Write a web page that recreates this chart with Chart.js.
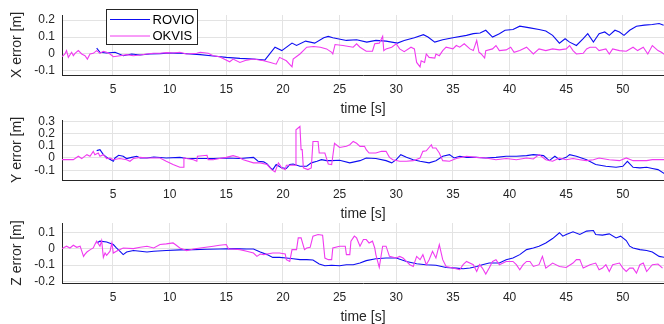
<!DOCTYPE html>
<html lang="en">
<head>
<meta charset="UTF-8">
<title>ROVIO / OKVIS position error</title>
<script src="https://cdn.jsdelivr.net/npm/chart.js"></script>
<style>
  body { margin: 0; background: #fff; }
  .wrap { position: relative; width: 664px; height: 324px; overflow: hidden; background: #fff; }
  .wrap canvas { position: absolute; left: 0; }
</style>
</head>
<body>
<div class="wrap">
  <canvas id="xChart" width="664" height="120" style="top:0px"></canvas>
  <canvas id="yChart" width="664" height="120" style="top:105px"></canvas>
  <canvas id="zChart" width="664" height="120" style="top:208px"></canvas>
</div>
<script>
// ---- data ----
const seriesNames = ['ROVIO', 'OKVIS'];
const timeTicks = [5, 10, 15, 20, 25, 30, 35, 40, 45, 50];
const timeRange = [0.5, 53.63];
const xErrTicks = [-0.1, 0, 0.1, 0.2];
const yErrTicks = [-0.1, 0, 0.1, 0.2, 0.3];
const zErrTicks = [-0.2, -0.1, 0, 0.1];

// X error
const xRovioT = [3.56,3.85,4.44,5.18,5.91,6.65,7.38,8.26,9.15,10.03,10.9,11.8,12.7,13.85,15.0,16.2,17.4,18.4,19.3,19.9,20.8,21.2,22.0,22.8,23.6,24.0,24.4,25.6,26.5,27.4,28.2,29.1,30.1,30.7,31.6,32.4,32.8,33.4,34.1,35.0,36.2,36.8,37.4,37.9,38.5,39.1,39.6,40.3,40.9,41.8,42.6,43.2,43.8,44.4,44.9,45.3,45.9,46.5,46.9,47.4,47.9,48.4,48.8,49.3,49.7,50.1,50.6,51.2,51.9,52.6,53.2,53.6];
const xRovioErr = [0.034,0.01,0.006,0.01,-0.01,0,-0.006,0,0.002,0.006,0.004,0,-0.004,-0.012,-0.02,-0.026,-0.03,-0.036,0.04,0.02,0.064,0.05,0.076,0.064,0.096,0.104,0.096,0.08,0.084,0.07,0.08,0.076,0.064,0.08,0.096,0.114,0.1,0.07,0.084,0.096,0.11,0.12,0.124,0.14,0.1,0.12,0.14,0.144,0.164,0.154,0.144,0.136,0.11,0.064,0.09,0.07,0.05,0.09,0.12,0.07,0.12,0.13,0.11,0.14,0.13,0.11,0.14,0.164,0.17,0.174,0.18,0.17];
const xOkvisT = [0.5,0.76,0.9,1.06,1.35,1.5,1.65,1.94,2.24,2.53,2.74,2.97,3.26,3.56,3.85,4.15,4.44,4.74,5.03,5.62,6.2,6.8,7.4,7.97,8.56,9.15,9.74,10.3,10.9,11.5,12.4,12.7,13.4,13.85,14.4,15.3,15.6,16.2,16.8,17.4,18.3,18.9,19.4,19.7,20.3,20.8,20.9,21.5,21.8,22.1,22.7,23.3,23.85,24.3,24.4,24.6,25.3,26.2,26.5,26.8,27.35,27.9,28.1,28.5,28.8,28.9,29.1,29.6,30.0,30.3,30.7,31.3,31.6,31.8,32.1,32.2,32.5,32.65,32.9,33.4,33.5,33.8,34.1,34.4,35.0,35.3,35.6,36.0,36.5,36.8,37.1,37.3,37.5,37.8,37.9,38.5,38.8,39.1,39.7,40.1,40.4,40.9,41.5,42.1,42.6,43.2,43.8,44.4,45.0,45.3,45.6,45.9,46.5,46.8,47.1,47.6,47.9,48.5,48.8,49.1,49.7,50.3,50.9,51.3,51.8,52.2,52.6,53.1,53.4,53.7];
const xOkvisErr = [-0.016,0,0.02,-0.02,0.01,-0.01,0.004,0.02,0,-0.01,-0.03,0,0.004,0.02,0.004,0.016,0.01,0,-0.016,-0.01,-0.004,-0.01,-0.006,0,0.004,0.004,0.008,0.006,0.01,0,0.004,0.01,0.004,-0.01,-0.016,-0.046,-0.03,-0.05,-0.036,-0.03,-0.04,-0.05,-0.06,-0.02,-0.04,-0.076,-0.03,0,0.02,0.04,0.044,0.04,0.03,0.01,0,0.056,0.05,0.04,0.06,0.04,0.016,0.016,0.06,0.064,0.104,0.02,0.03,0.04,0.06,0.03,0.014,0.04,0.03,-0.05,-0.076,-0.04,-0.05,0,-0.02,-0.024,0,-0.01,0.02,0.04,0.03,0.05,0.04,0.06,0.03,0.02,0.08,0.01,0,-0.024,0.02,0.03,0.05,0.02,0.024,0.04,0.01,0.02,0.04,0,0.03,0.02,0.03,0.024,0.03,0.05,0.02,0,0.004,0.03,0.04,0.04,0.02,0.03,0,0.03,0.02,0.016,0.04,0.02,0.04,0,0.05,0.02,0.01,-0.004];

// Y error
const yRovioT = [3.56,3.85,4.15,4.6,5.03,5.18,5.5,5.9,6.2,6.65,7.1,7.4,8.0,8.6,9.7,10.9,11.5,12.7,13.85,15.0,16.2,17.4,17.8,18.3,18.6,18.9,19.1,19.4,19.9,20.3,20.6,20.9,21.5,22.1,22.5,23.0,23.4,23.85,24.3,25.0,25.9,26.8,27.35,28.2,29.1,29.6,30.0,30.4,30.9,31.5,32.1,32.9,33.5,34.1,34.7,35.1,35.6,36.2,37.1,37.9,38.8,39.7,40.6,41.5,42.1,43.0,43.5,44.0,44.4,45.0,45.3,45.9,46.8,47.6,48.5,49.4,50.0,50.4,50.9,51.5,52.1,52.6,53.1,53.7];
const yRovioErr = [0.06,0.068,0.027,-0.005,-0.027,0,0.022,0.014,-0.005,0.005,0.014,0,0,0.008,0,0.005,-0.005,-0.005,-0.005,0,-0.005,0.005,-0.027,-0.032,-0.049,-0.081,-0.095,-0.054,-0.081,-0.086,-0.054,-0.049,-0.068,-0.068,-0.04,-0.027,-0.014,-0.022,-0.022,-0.019,-0.04,-0.022,0,-0.005,-0.022,-0.04,-0.014,0.027,0.005,-0.014,-0.027,-0.04,-0.022,0.014,0.027,0,0.014,0.005,0.005,0,0.005,0.014,0.014,0.019,0.027,0.019,-0.022,0.014,-0.014,0.005,0.027,0.014,-0.014,-0.054,-0.068,-0.076,-0.068,-0.027,-0.076,-0.081,-0.076,-0.086,-0.095,-0.13];
const yOkvisT = [0.5,0.9,1.5,1.94,2.24,2.7,2.97,3.26,3.4,3.7,3.85,4.15,4.44,4.74,5.03,5.6,6.2,6.5,6.8,7.1,7.4,8.0,9.15,9.7,10.3,10.9,11.2,11.26,11.5,12.1,12.4,12.45,13.3,13.4,13.85,14.4,15.0,15.6,16.1,16.5,17.4,18.0,18.6,19.0,19.3,19.6,19.9,20.2,20.3,21.1,21.15,21.5,21.6,21.7,21.8,22.2,22.5,22.65,23.1,23.2,23.7,24.0,24.3,24.55,25.0,25.6,25.9,26.2,26.5,26.8,27.2,27.35,27.6,28.2,28.7,29.1,29.4,29.7,30.3,30.9,31.5,32.1,32.35,32.65,33.1,33.2,33.5,33.8,34.1,34.7,35.3,36.2,37.1,37.9,38.8,39.7,40.6,41.5,42.1,42.6,43.2,43.8,44.4,45.0,45.6,46.2,46.8,47.4,47.9,48.8,49.7,50.3,50.9,52.1,52.6,53.7];
const yOkvisErr = [-0.014,-0.014,-0.014,0.014,-0.005,0.027,0.014,0.054,0.027,0.04,0.014,0.027,-0.005,0,-0.014,-0.005,-0.014,-0.027,-0.005,0,0.005,0,0,-0.027,-0.054,-0.076,-0.076,0,-0.005,-0.014,-0.027,0.014,0.022,-0.014,-0.014,-0.005,0.005,0.019,0.005,-0.014,-0.04,-0.04,-0.054,-0.095,-0.114,-0.04,-0.081,-0.095,-0.059,-0.059,0.23,0.257,0.068,0.068,-0.081,-0.095,-0.081,0.135,0.135,0.04,0.04,-0.049,-0.054,0.12,0.086,0.095,0.108,0.135,0.12,0.095,0.095,0.068,0.04,0.04,0.054,0.054,0.005,-0.014,-0.027,-0.027,-0.022,0,0.054,0.059,0.108,0.081,0.081,0.04,-0.022,-0.027,-0.005,0.014,0.005,0,-0.014,-0.005,-0.014,0,-0.008,0.027,-0.014,-0.027,0,-0.014,-0.005,-0.014,-0.022,-0.014,0,-0.014,-0.022,0,-0.022,-0.022,-0.014,-0.014];

// Z error
const zRovioT = [3.56,3.85,4.44,5.03,5.3,5.6,5.9,6.2,6.8,7.4,8.0,8.6,9.7,10.9,12.1,13.3,14.4,15.6,16.8,17.4,18.0,18.6,19.1,19.7,20.3,20.9,21.5,22.1,22.65,23.2,23.7,24.3,25.0,25.6,26.2,26.8,27.35,28.2,29.1,30.0,30.9,31.8,32.6,33.5,34.4,35.3,35.9,36.5,37.1,37.6,38.2,39.1,39.7,40.3,40.9,41.5,42.1,42.6,43.2,43.8,44.4,44.7,45.0,45.6,46.2,46.8,47.4,47.6,48.2,48.8,49.4,49.8,50.3,50.6,50.9,51.5,52.1,52.6,53.2,53.7];
const zRovioErr = [0.037,0.048,0.043,0.027,0.006,-0.014,-0.035,-0.019,-0.01,-0.014,-0.019,-0.014,-0.01,-0.006,-0.004,-0.002,0,0.002,0,0,-0.019,-0.035,-0.052,-0.052,-0.056,-0.06,-0.066,-0.066,-0.068,-0.093,-0.104,-0.101,-0.104,-0.097,-0.097,-0.087,-0.072,-0.06,-0.056,-0.056,-0.077,-0.091,-0.097,-0.101,-0.114,-0.118,-0.122,-0.118,-0.108,-0.097,-0.087,-0.087,-0.066,-0.056,-0.035,-0.004,0.006,0.017,0.037,0.064,0.1,0.079,0.089,0.106,0.089,0.11,0.114,0.089,0.085,0.093,0.068,0.079,0.052,0.017,0.006,-0.004,-0.01,-0.019,-0.046,-0.052];
const zOkvisT = [0.5,0.9,1.2,1.5,1.8,2.1,2.4,2.5,2.7,3.0,3.26,3.4,3.56,3.85,4.0,4.15,4.3,4.44,4.74,4.9,5.03,5.3,5.9,6.8,7.4,8.0,8.6,9.15,9.7,10.3,10.5,10.9,11.5,12.1,12.7,13.85,14.4,15.0,15.2,15.6,16.2,16.8,17.4,17.7,18.0,18.3,18.6,19.1,19.7,20.2,20.3,20.6,20.8,21.2,21.35,21.6,21.9,22.1,22.4,22.65,23.1,23.5,23.7,24.0,24.3,24.4,25.0,25.5,25.6,25.9,26.0,26.3,26.5,26.8,27.1,27.35,27.6,27.9,28.1,28.2,28.5,28.8,29.1,29.4,30.0,30.3,30.6,30.9,31.2,31.5,31.8,32.1,32.35,32.65,32.9,33.2,33.5,33.8,34.0,34.1,34.4,35.0,35.6,35.9,36.2,36.8,37.1,37.35,37.6,37.9,38.2,38.5,38.8,39.1,39.7,40.3,40.6,40.9,41.2,41.5,41.8,42.1,42.6,42.9,43.2,43.8,44.4,45.0,45.6,45.9,46.2,46.5,47.1,47.6,47.9,48.2,48.5,48.8,49.1,49.7,50.0,50.3,50.6,50.9,51.2,51.5,51.8,52.1,52.6,53.1,53.5];
const zOkvisErr = [0.002,0.017,0.006,0.023,0.01,0.017,-0.046,-0.035,-0.019,-0.004,0.006,0.027,0.048,0.017,0.052,-0.052,-0.025,-0.039,-0.014,0.037,-0.025,-0.014,0.006,0.002,0.01,0.017,0.006,0.027,0.031,0.037,0.027,0.006,-0.01,0,0.006,0.017,0.023,0.027,0,0,-0.004,-0.014,-0.025,-0.046,-0.031,-0.035,-0.031,-0.025,-0.025,-0.031,-0.066,-0.077,-0.004,-0.004,0.068,0.068,-0.004,0.006,0.01,0.079,0.089,0.085,-0.056,-0.066,-0.066,0.006,0.017,0.017,-0.035,-0.035,0.048,0.079,0.068,0.017,0.058,0.058,0.037,0.048,0.006,-0.035,-0.114,0.017,0.017,-0.046,-0.056,-0.046,-0.056,-0.077,-0.097,-0.108,-0.046,-0.066,-0.035,-0.097,-0.066,-0.014,-0.056,0.027,-0.035,-0.066,-0.108,-0.118,-0.128,-0.097,-0.077,-0.097,-0.139,-0.097,-0.118,-0.155,-0.118,-0.077,-0.066,-0.097,-0.077,-0.077,-0.097,-0.128,-0.097,-0.077,-0.077,-0.108,-0.097,-0.046,-0.118,-0.087,-0.108,-0.114,-0.087,-0.066,-0.066,-0.118,-0.097,-0.087,-0.128,-0.118,-0.097,-0.139,-0.097,-0.087,-0.118,-0.139,-0.118,-0.118,-0.149,-0.097,-0.087,-0.139,-0.097,-0.093,-0.118];

// ---- styling ----
const FONT = '"Liberation Sans", Arial, Helvetica, sans-serif';
const axisColor = '#262626';
const gridColor = '#e3e3e3';
const rovioColor = '#0d0df2';
const okvisColor = '#f03af0';

function toPoints(ts, vs) {
    return ts.map((t, i) => ({ x: t, y: vs[i] }));
}

// legend box drawn inside the top plot, like the original
const legendBox = {
    id: 'legendBox',
    afterDraw(chart, args, opts) {
        if (!opts.show) return;
        const ctx = chart.ctx;
        const left = 106.5, top = 9.5, w = 91, h = 35;
        ctx.save();
        ctx.fillStyle = '#fff';
        ctx.fillRect(left, top, w, h);
        ctx.strokeStyle = axisColor;
        ctx.lineWidth = 1;
        ctx.strokeRect(left, top, w, h);
        ctx.font = '13px ' + FONT;
        ctx.textBaseline = 'middle';
        const rows = [top + 10, top + 26.5];
        seriesNames.forEach((name, i) => {
            const ds = chart.data.datasets.find(d => d.label === name);
            ctx.strokeStyle = ds.borderColor;
            ctx.beginPath();
            ctx.moveTo(left + 3.5, rows[i]);
            ctx.lineTo(left + 43.5, rows[i]);
            ctx.stroke();
            ctx.fillStyle = '#000';
            ctx.fillText(name, left + 46, rows[i] + 0.5);
        });
        ctx.restore();
    }
};

function makePlot(id, yLabel, yMin, yMax, yTicks, rT, rV, oT, oV, showLegend) {
    return new Chart(document.getElementById(id), {
        type: 'line',
        data: {
            datasets: [
                { label: seriesNames[0], data: toPoints(rT, rV), borderColor: rovioColor, borderWidth: 1.1, order: 1 },
                { label: seriesNames[1], data: toPoints(oT, oV), borderColor: okvisColor, borderWidth: 1.1, order: 0 }
            ]
        },
        options: {
            responsive: false,
            animation: false,
            devicePixelRatio: 1,
            layout: { padding: { top: 15, left: 0, right: 0, bottom: 0 } },
            elements: { point: { radius: 0 }, line: { tension: 0 } },
            plugins: {
                legend: { display: false },
                tooltip: { enabled: false },
                legendBox: { show: showLegend }
            },
            scales: {
                x: {
                    type: 'linear',
                    min: timeRange[0],
                    max: timeRange[1],
                    afterBuildTicks: s => { s.ticks = timeTicks.map(v => ({ value: v })); },
                    afterFit: s => { s.height = 45; },
                    grid: { color: gridColor, drawTicks: false },
                    border: { color: axisColor, width: 1 },
                    ticks: { color: axisColor, font: { size: 12, family: FONT }, padding: 7, maxRotation: 0, autoSkip: false },
                    title: { display: true, text: 'time [s]', color: axisColor, font: { size: 14, family: FONT }, padding: { top: 0, bottom: 2 } }
                },
                y: {
                    type: 'linear',
                    min: yMin,
                    max: yMax,
                    afterBuildTicks: s => { s.ticks = yTicks.map(v => ({ value: v })); },
                    afterFit: s => { s.width = 62; },
                    grid: { color: gridColor, drawTicks: false },
                    border: { color: axisColor, width: 1 },
                    ticks: { color: axisColor, font: { size: 12, family: FONT }, padding: 7, autoSkip: false, callback: v => String(v) },
                    title: { display: true, text: yLabel, color: axisColor, font: { size: 14, family: FONT }, padding: { top: 9, bottom: 0 } }
                }
            }
        },
        plugins: [legendBox]
    });
}

makePlot('xChart', 'X error [m]', -0.124, 0.23, xErrTicks, xRovioT, xRovioErr, xOkvisT, xOkvisErr, true);
makePlot('yChart', 'Y error [m]', -0.18, 0.31, yErrTicks, yRovioT, yRovioErr, yOkvisT, yOkvisErr, false);
makePlot('zChart', 'Z error [m]', -0.21, 0.16, zErrTicks, zRovioT, zRovioErr, zOkvisT, zOkvisErr, false);
</script>
</body>
</html>
